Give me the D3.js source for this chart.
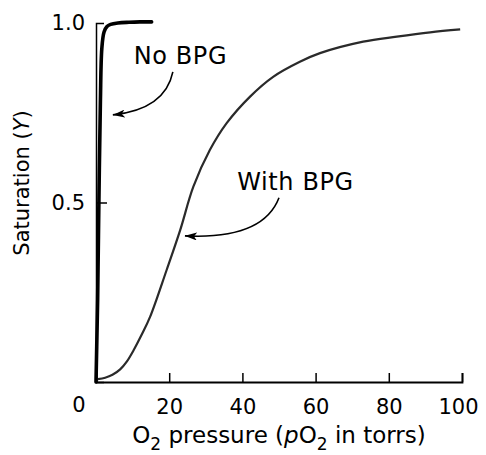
<!DOCTYPE html>
<html><head><meta charset="utf-8">
<script src="https://cdn.jsdelivr.net/npm/d3@7"></script>
<style>
body{margin:0;background:#fff}
svg{display:block;font-family:"DejaVu Sans",Verdana,sans-serif}
</style></head>
<body><svg id="c" width="486" height="455"></svg>
<script>
// pO2 (torr) and saturation Y — stripped hemoglobin (No BPG)
const noBpgP = [0, 0.2, 0.45, 0.8, 1.2, 1.6, 2.2, 3, 4, 6, 9, 12, 15.2];
const noBpgY = [0, 0.1, 0.23, 0.51, 0.78, 0.93, 0.975, 0.99, 0.996, 1.0, 1.002, 1.003, 1.003];
// With BPG
const bpgP = [0.5, 2.5, 4.5, 6.6, 8.5, 10.2, 12.5, 14.8, 19.3, 23.0, 26.6, 31.1, 35.7, 42.1, 48.4, 55.7, 61.2, 73, 82.2, 91.3, 99.5];
const bpgY = [0.008, 0.012, 0.02, 0.035, 0.058, 0.087, 0.132, 0.182, 0.312, 0.423, 0.544, 0.646, 0.721, 0.795, 0.850, 0.892, 0.916, 0.948, 0.962, 0.974, 0.982];
const xTicks = [0, 20, 40, 60, 80, 100];
const yTicks = [0.5, 1.0];
const yTickLabels = ["0.5", "1.0"];
// annotations: label anchor and arrow (start, control, tip) in data units
const labels = [
  {text: "No BPG", p: 10.3, y: 0.887},
  {text: "With BPG", p: 38.6, y: 0.534}
];
const arrows = [
  {from: [21.0, 0.864], ctrl: [18.9, 0.76], to: [4.6, 0.744]},
  {from: [50.0, 0.513], ctrl: [45.6, 0.396], to: [24.3, 0.407]}
];

const svg = d3.select("#c");
const x = d3.scaleLinear().domain([0, 100]).range([96, 462]);
const y = d3.scaleLinear().domain([0, 1]).range([382, 23]);

// X axis
const gx = svg.append("g").attr("transform", `translate(0,${y(0)})`)
  .call(d3.axisBottom(x).tickValues(xTicks).tickSize(-9).tickSizeOuter(-9).tickPadding(17)
    .tickFormat(d => d === 0 ? "" : d));
gx.attr("font-family", null);
gx.select(".domain").attr("stroke", "#000").attr("stroke-width", 1.8);
gx.selectAll(".tick line").attr("stroke", "#000").attr("stroke-width", 1.5);
gx.selectAll(".tick text").attr("font-size", 21).attr("fill", "#000");
gx.selectAll(".tick text").filter(d => d === 100).attr("dx", -4);

// corner 0 label
svg.append("text").attr("x", x(0) - 17).attr("y", y(0) + 30)
  .attr("text-anchor", "middle").attr("font-size", 21).text("0");

// Y axis
const gy = svg.append("g").attr("transform", `translate(${x(0)},0)`)
  .call(d3.axisLeft(y).tickValues(yTicks).tickSize(-11).tickSizeOuter(-8).tickPadding(11)
    .tickFormat((d, i) => yTickLabels[i]));
gy.attr("font-family", null);
gy.select(".domain").attr("stroke", "#000").attr("stroke-width", 1.5);
gy.selectAll(".tick line").attr("stroke", "#000").attr("stroke-width", 1.5);
gy.selectAll(".tick text").attr("font-size", 21).attr("fill", "#000");
gy.selectAll(".tick").filter(d => d === 1).select("line").remove();

// Curves
const line = d3.line().x(d => x(d[0])).y(d => y(d[1])).curve(d3.curveCatmullRom.alpha(0.5));
svg.append("path").datum(bpgP.map((p, i) => [p, bpgY[i]]))
  .attr("d", line).attr("fill", "none").attr("stroke", "#2a2a2a").attr("stroke-width", 2.2);
svg.append("path").datum(noBpgP.map((p, i) => [p, noBpgY[i]]))
  .attr("d", line)
  .attr("fill", "none").attr("stroke", "#000").attr("stroke-width", 3.6).attr("stroke-linecap", "round");

// Labels
svg.selectAll("text.lab").data(labels).enter().append("text").attr("class", "lab")
  .attr("x", d => x(d.p)).attr("y", d => y(d.y)).attr("font-size", 24).attr("letter-spacing", 0.6)
  .text(d => d.text);

// Arrows
svg.append("defs").append("marker").attr("id", "ah").attr("viewBox", "0 0 12 8")
  .attr("refX", 12).attr("refY", 4).attr("markerWidth", 12).attr("markerHeight", 8)
  .attr("markerUnits", "userSpaceOnUse").attr("orient", "auto")
  .append("path").attr("d", "M0,0L12,4L0,8L3,4Z").attr("fill", "#000");
svg.selectAll("path.arr").data(arrows).enter().append("path").attr("class", "arr")
  .attr("d", d => {
    const p = d3.path();
    p.moveTo(x(d.from[0]), y(d.from[1]));
    p.quadraticCurveTo(x(d.ctrl[0]), y(d.ctrl[1]), x(d.to[0]), y(d.to[1]));
    return p.toString();
  })
  .attr("fill", "none").attr("stroke", "#000").attr("stroke-width", 1.6).attr("marker-end", "url(#ah)");

// Axis titles
const xt = svg.append("text").attr("x", 279).attr("y", 443).attr("text-anchor", "middle").attr("font-size", 23);
xt.append("tspan").text("O");
xt.append("tspan").attr("font-size", 17).attr("dy", 7).text("2");
xt.append("tspan").attr("dy", -7).text(" pressure (");
xt.append("tspan").attr("font-style", "italic").text("p");
xt.append("tspan").text("O");
xt.append("tspan").attr("font-size", 17).attr("dy", 7).text("2");
xt.append("tspan").attr("dy", -7).text(" in torrs)");

const yt = svg.append("text").attr("transform", "translate(29,183) rotate(-90)")
  .attr("text-anchor", "middle").attr("font-size", 21);
yt.append("tspan").text("Saturation (");
yt.append("tspan").attr("font-style", "italic").text("Y");
yt.append("tspan").text(")");
</script></body></html>
